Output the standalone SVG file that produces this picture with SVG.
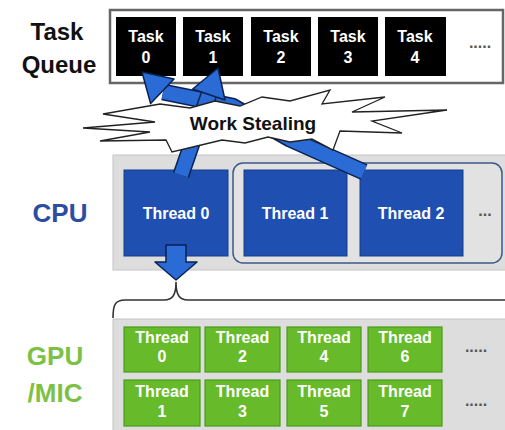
<svg xmlns="http://www.w3.org/2000/svg" width="505" height="430" viewBox="0 0 505 430">
<style>
text{font-family:"Liberation Sans",Arial,sans-serif;font-weight:bold;text-anchor:middle}
.lbl{font-size:24px;fill:#111}
.task{fill:#000}
.tt{font-size:16px;fill:#fff}
.th{fill:#1f4fb0;stroke:#163c8a;stroke-width:1}
.thg{fill:#67bb2a;stroke:#4a9a1c;stroke-width:1.2}
.wt{font-size:16px;fill:#fff}
.dots{font-size:16px;fill:#555}
.panel{fill:#dddddd;stroke:#c4c4c4;stroke-width:1}
.so{fill:none;stroke:#0b2152;stroke-width:17;stroke-linejoin:round}
.si{fill:none;stroke:#2b6bd6;stroke-width:14;stroke-linejoin:round}
.hd{fill:#2b6bd6;stroke:#0b2152;stroke-width:1.5;stroke-linejoin:round}
</style>
<rect width="505" height="430" fill="#fff"/>
<g id="label-taskqueue">
<text class="lbl" x="57" y="40">Task</text>
<text class="lbl" x="59" y="73">Queue</text>
</g>
<g id="taskqueue">
<rect x="110" y="10" width="393" height="73" fill="#fff" stroke="#666" stroke-width="2.5"/>
<g id="task0"><rect class="task" x="116" y="17" width="60" height="59"/><text class="tt" x="146" y="42">Task</text><text class="tt" x="146" y="63">0</text></g>
<g id="task1"><rect class="task" x="183" y="17" width="60" height="59"/><text class="tt" x="213" y="42">Task</text><text class="tt" x="213" y="63">1</text></g>
<g id="task2"><rect class="task" x="251" y="17" width="60" height="59"/><text class="tt" x="281" y="42">Task</text><text class="tt" x="281" y="63">2</text></g>
<g id="task3"><rect class="task" x="318" y="17" width="60" height="59"/><text class="tt" x="348" y="42">Task</text><text class="tt" x="348" y="63">3</text></g>
<g id="task4"><rect class="task" x="385" y="17" width="61" height="59"/><text class="tt" x="415" y="42">Task</text><text class="tt" x="415" y="63">4</text></g>
<text class="dots" x="480" y="48">.....</text>
</g>
<g id="cpu">
<text x="60" y="222" font-size="26" fill="#2b4ea2">CPU</text>
<rect class="panel" x="113" y="155" width="395" height="115"/>
<rect x="233" y="163" width="269" height="100" rx="10" fill="#e2e2e2" stroke="#3b5a86" stroke-width="1.5"/>
<g id="cpu-thread0"><rect class="th" x="124" y="170" width="104" height="86"/><text class="wt" x="176" y="219">Thread 0</text></g>
<g id="cpu-thread1"><rect class="th" x="244" y="170" width="103" height="86"/><text class="wt" x="295" y="219">Thread 1</text></g>
<g id="cpu-thread2"><rect class="th" x="360" y="170" width="103" height="86"/><text class="wt" x="411" y="219">Thread 2</text></g>
<text class="dots" x="485" y="216">...</text>
</g>
<g id="gpu">
<text x="55" y="365" font-size="26" fill="#7cc145">GPU</text>
<text x="55" y="402" font-size="26" fill="#7cc145">/MIC</text>
<rect class="panel" x="113" y="319" width="395" height="115"/>
<g id="gpu-t0"><rect class="thg" x="124" y="327" width="76" height="45"/><text class="wt" x="162" y="343">Thread</text><text class="wt" x="162" y="362">0</text></g>
<g id="gpu-t2"><rect class="thg" x="205" y="327" width="75" height="45"/><text class="wt" x="242.5" y="343">Thread</text><text class="wt" x="242.5" y="362">2</text></g>
<g id="gpu-t4"><rect class="thg" x="287" y="327" width="74" height="45"/><text class="wt" x="324" y="343">Thread</text><text class="wt" x="324" y="362">4</text></g>
<g id="gpu-t6"><rect class="thg" x="368" y="327" width="74" height="45"/><text class="wt" x="405" y="343">Thread</text><text class="wt" x="405" y="362">6</text></g>
<g id="gpu-t1"><rect class="thg" x="124" y="380" width="76" height="46"/><text class="wt" x="162" y="397">Thread</text><text class="wt" x="162" y="417">1</text></g>
<g id="gpu-t3"><rect class="thg" x="205" y="380" width="75" height="46"/><text class="wt" x="242.5" y="397">Thread</text><text class="wt" x="242.5" y="417">3</text></g>
<g id="gpu-t5"><rect class="thg" x="287" y="380" width="74" height="46"/><text class="wt" x="324" y="397">Thread</text><text class="wt" x="324" y="417">5</text></g>
<g id="gpu-t7"><rect class="thg" x="368" y="380" width="74" height="46"/><text class="wt" x="405" y="397">Thread</text><text class="wt" x="405" y="417">7</text></g>
<text class="dots" x="476" y="352">.....</text>
<text class="dots" x="476" y="406">.....</text>
</g>
<g id="connectors">
<path d="M113,318 C113,305 115,300 125,300 L164,300 C172,300 176,296 176,282 C176,296 180,300 188,300 L505,300" fill="none" stroke="#333" stroke-width="1.6"/>
<polygon class="hd" points="166,245 186,245 186,262 197,262 176,280 155,262 166,262"/>
<path class="so" d="M364,172 L290,139 L232,106 L163,92"/>
<path class="si" d="M364,172 L290,139 L232,106 L163,92"/>
<polygon class="hd" points="142,72 174,79 162.3,91.3 150.6,103.6"/>
<path class="so" d="M181,175 L209,94"/>
<path class="si" d="M181,175 L209,94"/>
<polygon class="hd" points="218,68 225,100 208.8,94.5 192.7,89"/>
</g>
<g id="work-stealing">
<polygon points="160,104 190,108 215,101 240,106 262,97 290,101 330,90 322,104 385,97 352,112 447,110 372,121 402,133 340,131 333,150 312,139 290,142 268,137 245,143 222,140 197,146 172,152 166,140 100,141 150,132 83,128 155,122 103,114" fill="#fff" stroke="#222" stroke-width="1.3" stroke-linejoin="miter"/>
<text x="253" y="130" font-size="19" fill="#111">Work Stealing</text>
</g>
</svg>
